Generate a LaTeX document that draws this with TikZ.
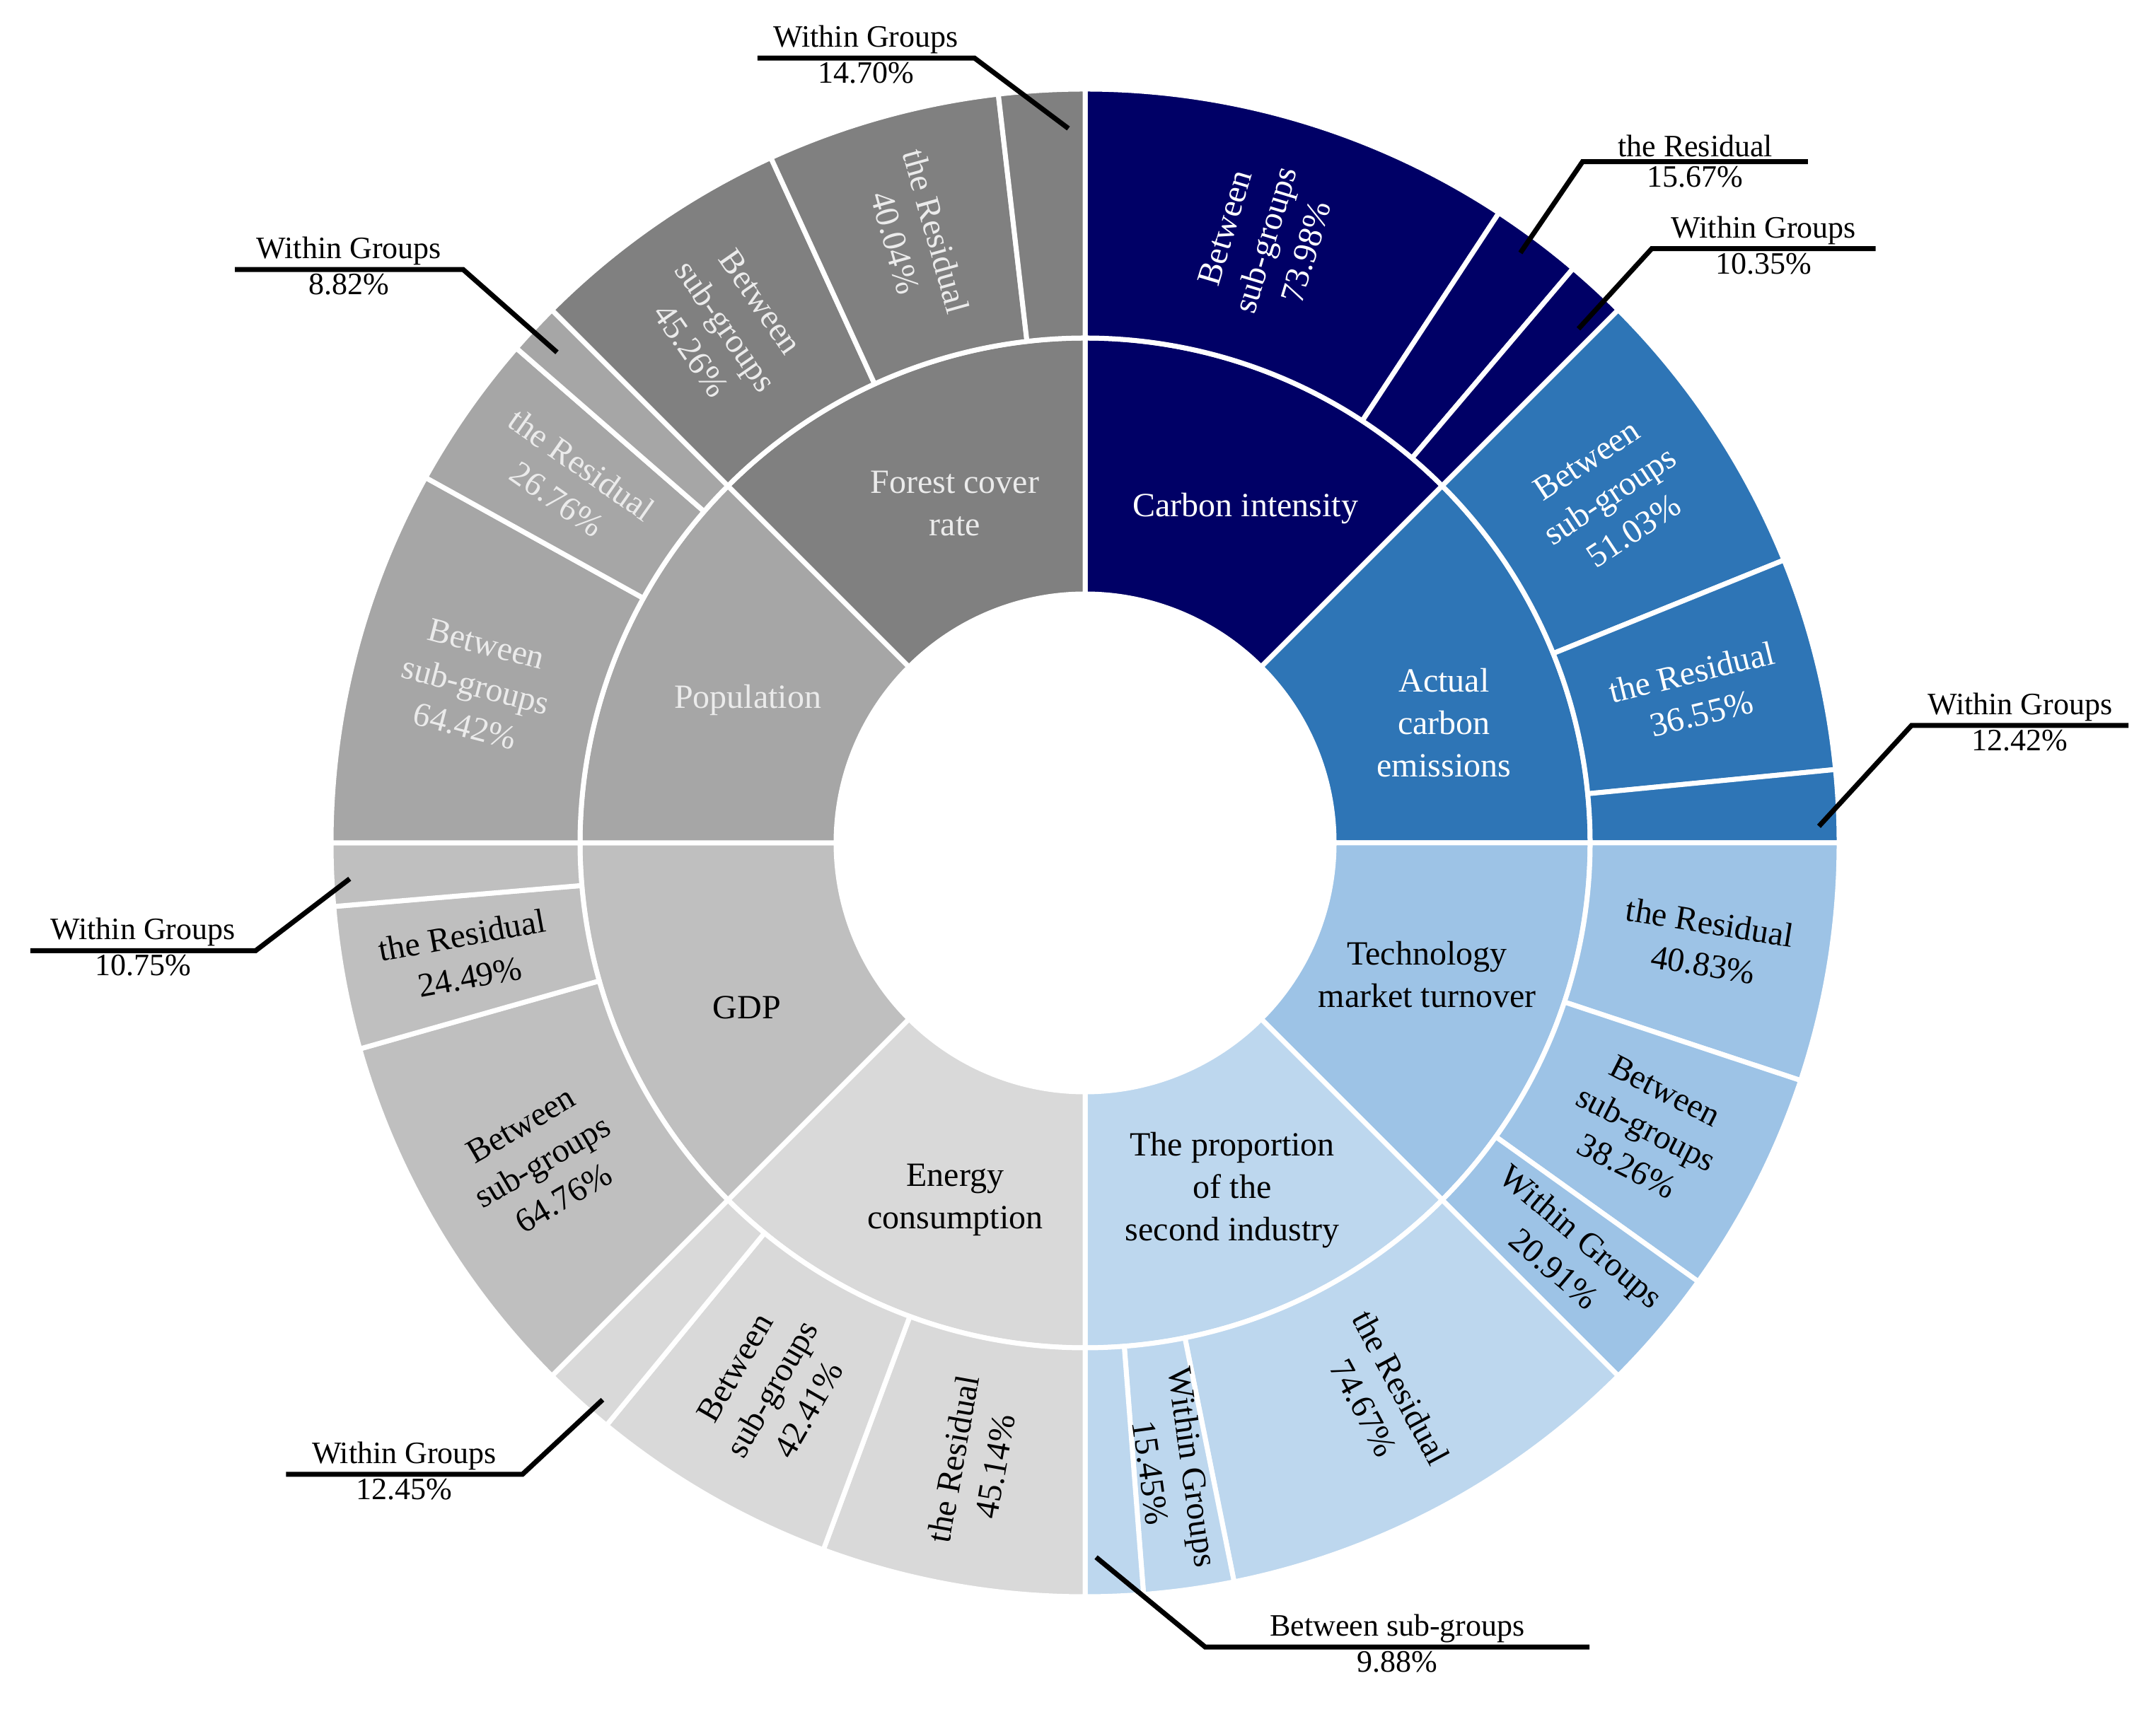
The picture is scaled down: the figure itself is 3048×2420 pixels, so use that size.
\documentclass[tikz,border=0pt]{standalone}
\usepackage{fontspec}
\setmainfont{Liberation Serif}
\usetikzlibrary{calc}
\definecolor{cCI}{HTML}{000066}
\definecolor{cAC}{HTML}{2E75B6}
\definecolor{cTM}{HTML}{9DC3E6}
\definecolor{cSI}{HTML}{BDD7EE}
\definecolor{cEC}{HTML}{D9D9D9}
\definecolor{cGDP}{HTML}{BFBFBF}
\definecolor{cPOP}{HTML}{A6A6A6}
\definecolor{cFC}{HTML}{808080}
\newcommand\myseg[5]{\fill[#5,draw=white,line width=7pt,line join=round] (#1:#3) arc[start angle=#1,end angle=#2,radius=#3] -- (#2:#4) arc[start angle=#2,end angle=#1,radius=#4] -- cycle;}
\tikzset{lab/.style={font=\fontsize{48}{60}\selectfont,align=center,inner sep=2pt},
 clab/.style={font=\fontsize{44}{50}\selectfont,inner sep=6pt},
 callout/.style={line width=7pt,black}}
\begin{document}
\begin{tikzpicture}[x=1pt,y=1pt]
\useasboundingbox (0,0) rectangle (3048,2420);
\begin{scope}[shift={(1534,1228)}]
% inner ring
\myseg{45}{90}{352pt}{714pt}{cCI}
\myseg{0}{45}{352pt}{714pt}{cAC}
\myseg{-45}{0}{352pt}{714pt}{cTM}
\myseg{-90}{-45}{352pt}{714pt}{cSI}
\myseg{-135}{-90}{352pt}{714pt}{cEC}
\myseg{180}{225}{352pt}{714pt}{cGDP}
\myseg{135}{180}{352pt}{714pt}{cPOP}
\myseg{90}{135}{352pt}{714pt}{cFC}
% outer ring
\myseg{56.71}{90}{714pt}{1066pt}{cCI}
\myseg{49.66}{56.71}{714pt}{1066pt}{cCI}
\myseg{45}{49.66}{714pt}{1066pt}{cCI}
\myseg{22.04}{45}{714pt}{1066pt}{cAC}
\myseg{5.59}{22.04}{714pt}{1066pt}{cAC}
\myseg{0}{5.59}{714pt}{1066pt}{cAC}
\myseg{-18.37}{0}{714pt}{1066pt}{cTM}
\myseg{-35.59}{-18.37}{714pt}{1066pt}{cTM}
\myseg{-45}{-35.59}{714pt}{1066pt}{cTM}
\myseg{-78.6}{-45}{714pt}{1066pt}{cSI}
\myseg{-85.55}{-78.6}{714pt}{1066pt}{cSI}
\myseg{-90}{-85.55}{714pt}{1066pt}{cSI}
\myseg{-110.31}{-90}{714pt}{1066pt}{cEC}
\myseg{-129.4}{-110.31}{714pt}{1066pt}{cEC}
\myseg{-135}{-129.4}{714pt}{1066pt}{cEC}
\myseg{195.86}{225}{714pt}{1066pt}{cGDP}
\myseg{184.84}{195.86}{714pt}{1066pt}{cGDP}
\myseg{180}{184.84}{714pt}{1066pt}{cGDP}
\myseg{151.01}{180}{714pt}{1066pt}{cPOP}
\myseg{138.97}{151.01}{714pt}{1066pt}{cPOP}
\myseg{135}{138.97}{714pt}{1066pt}{cPOP}
\myseg{114.63}{135}{714pt}{1066pt}{cFC}
\myseg{96.61}{114.63}{714pt}{1066pt}{cFC}
\myseg{90}{96.61}{714pt}{1066pt}{cFC}
% inner labels
\node[lab,white] (nCI) at (64.4:525pt) {Carbon intensity};
\node[lab,white] (nAC) at (18.5:535pt) {Actual\\carbon\\emissions};
\node[lab] (nTM) at (339:518pt) {Technology\\market turnover};
\node[lab] (nSI) at (293:533pt) {The proportion\\of the\\second industry};
\node[lab] (nEC) at (250:537pt) {Energy\\consumption};
\node[lab] (nGDP) at (206:532pt) {GDP};
\node[lab,white!92!black] (nPOP) at (157:518pt) {Population};
\node[lab,white!92!black] (nFC) at (111:514pt) {Forest cover\\rate};
% outer labels
\node[lab,white,rotate=73.35] (o1) at (73.35:890pt) {Between\\sub-groups\\73.98\%};
\node[lab,white,rotate=33.5] (o2) at (33.5:890pt) {Between\\sub-groups\\51.03\%};
\node[lab,white,rotate=13.8] (o3) at (13.8:890pt) {the Residual\\36.55\%};
\node[lab,rotate=-9.2] (o4) at (-9.2:890pt) {the Residual\\40.83\%};
\node[lab,rotate=-27] (o5) at (-27:890pt) {Between\\sub-groups\\38.26\%};
\node[lab,rotate=-40.3] (o6) at (-40.3:895pt) {Within Groups\\20.91\%};
\node[lab,rotate=-61.8] (o7) at (-61.8:890pt) {the Residual\\74.67\%};
\node[lab,rotate=-82.1] (o8) at (-82.1:895pt) {Within Groups\\15.45\%};
\node[lab,rotate=79.8] (o9) at (-100.15:890pt) {the Residual\\45.14\%};
\node[lab,rotate=60.1] (o10) at (-119.85:890pt) {Between\\sub-groups\\42.41\%};
\node[lab,rotate=30.4] (o11) at (-149.57:890pt) {Between\\sub-groups\\64.76\%};
\node[lab,rotate=10.35] (o12) at (-169.65:890pt) {the Residual\\24.49\%};
\node[lab,white!92!black,rotate=-14.5] (o13) at (165.5:890pt) {Between\\sub-groups\\64.42\%};
\node[lab,white!92!black,rotate=-35] (o14) at (145:890pt) {the Residual\\26.76\%};
\node[lab,white!92!black,rotate=-55.2] (o15) at (124.8:890pt) {Between\\sub-groups\\45.26\%};
\node[lab,white!92!black,rotate=-74.4] (o16) at (105.6:890pt) {the Residual\\40.04\%};
\end{scope}
% callouts (display coords scaled)
\def\cs{1.954}
\foreach \n/\sx/\sy/\ex/\ey/\hx/\tA/\tB in {
 a/773/93/705/42/548/Within Groups/14.70\%,
 b/403/255/335/195/170/Within Groups/8.82\%,
 c/253/636/185/688/22/Within Groups/10.75\%,
 d/436/1013/378/1067/207/Within Groups/12.45\%,
 e/793/1127/872/1192/1150/Between sub-groups/9.88\%,
 f/1316/598/1383/525/1540/Within Groups/12.42\%,
 g/1142/238/1195/180/1357/Within Groups/10.35\%,
 h/1100/183/1145/117/1308/the Residual/15.67\%}{
 \coordinate (s\n) at (\sx*\cs, 2420-\sy*\cs);
 \coordinate (e\n) at (\ex*\cs, 2420-\ey*\cs);
 \coordinate (h\n) at (\hx*\cs, 2420-\ey*\cs);
 \coordinate (m\n) at ($(e\n)!0.5!(h\n)$);
 \draw[callout,line join=miter] (s\n) -- (e\n) -- (h\n);
 \node[clab,anchor=south] (t\n) at (m\n) {\tA};
 \node[clab,anchor=north] (p\n) at (m\n) {\tB};
}
\end{tikzpicture}
\end{document}
